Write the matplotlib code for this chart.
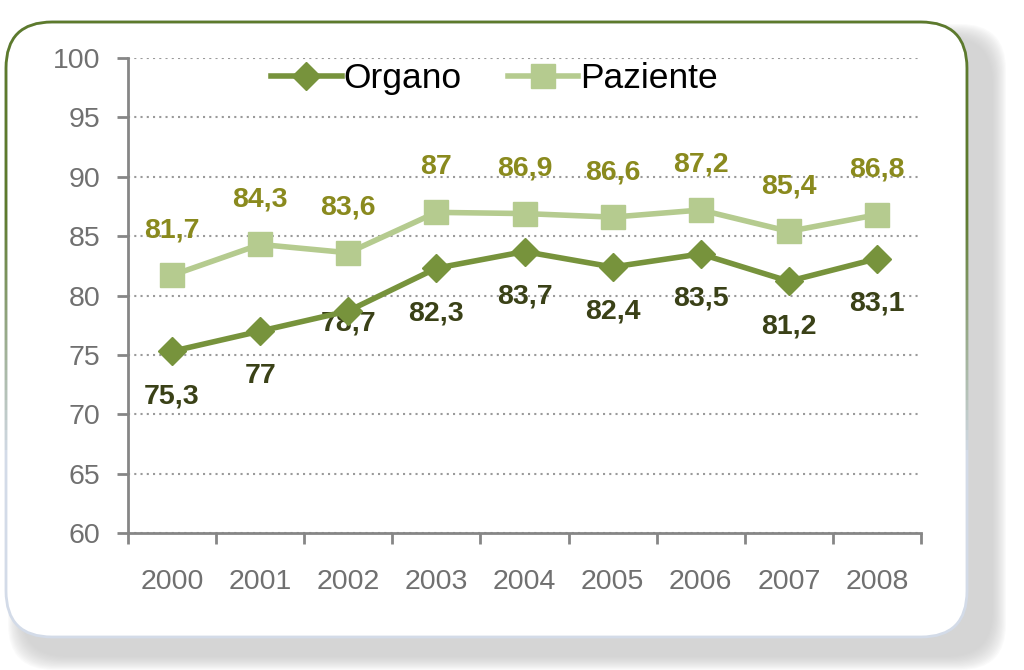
import matplotlib.pyplot as plt
from matplotlib.patches import FancyBboxPatch, Rectangle
import numpy as np

# Dati
anni = ['2000', '2001', '2002', '2003', '2004', '2005', '2006', '2007', '2008']
organo = [75.3, 77, 78.7, 82.3, 83.7, 82.4, 83.5, 81.2, 83.1]
paziente = [81.7, 84.3, 83.6, 87, 86.9, 86.6, 87.2, 85.4, 86.8]

plt.rcParams['font.family'] = ['Liberation Sans', 'DejaVu Sans']

fig = plt.figure(figsize=(10.24, 6.7), dpi=100)
W, H = 1024, 670

def box(x0, y0, x1, y1, **kw):
    # coordinate in pixel (origine in alto a sinistra)
    return FancyBboxPatch((x0 / W, 1 - y1 / H), (x1 - x0) / W, (y1 - y0) / H,
                          boxstyle='round,pad=0,rounding_size=0.045',
                          transform=fig.transFigure, mutation_aspect=W / H, **kw)

# ombra sfumata
for d in range(14, 0, -1):
    fig.patches.append(box(22 - d, 38 - d, 992 + d, 656 + d, facecolor='#c8c8c8',
                           edgecolor='none', alpha=0.08, zorder=0))
# cornice
fig.patches.append(box(6, 22, 967, 637, facecolor='white', edgecolor='#d3dbe8',
                       linewidth=2, zorder=1))
# bordo verde sfumato verso il basso
bande = np.linspace(0, 460, 47)
for k in range(len(bande) - 1):
    y0, y1 = bande[k], bande[k + 1]
    a = 1.0 if y1 <= 220 else max(0.0, 1 - (y1 - 220) / 240)
    p = box(6, 22, 967, 637, facecolor='none', edgecolor='#5d7a2c', linewidth=2,
            alpha=a, zorder=2)
    fig.patches.append(p)
    p.set_clip_path(Rectangle((0, 1 - y1 / H), 1, (y1 - y0) / H, transform=fig.transFigure))

ax = fig.add_axes([128 / W, 1 - 533 / H, (921 - 128) / W, (533 - 58) / H], zorder=3)
ax.patch.set_alpha(0)
x = np.arange(len(anni))

ax.plot(x, organo, color='#77933c', lw=4, marker='D', markersize=14,
        label='Organo', zorder=4)
ax.plot(x, paziente, color='#b5cb8f', lw=4, marker='s', markersize=17,
        label='Paziente', zorder=3)

lab = lambda v: ('%g' % v).replace('.', ',')
sotto = {2: 13}
for i, v in enumerate(organo):
    off = sotto.get(i, 45)
    ax.annotate(lab(v), (x[i], v), xytext=(0, -off), textcoords='offset pixels',
                ha='center', va='center', fontsize=20.5, fontweight='bold', color='#3a4117')
for i, v in enumerate(paziente):
    ax.annotate(lab(v), (x[i], v), xytext=(0, 45), textcoords='offset pixels',
                ha='center', va='center', fontsize=20.5, fontweight='bold', color='#8a8a1e')

ax.set_xlim(-0.5, len(anni) - 0.5)
ax.set_ylim(60, 100)
ax.set_yticks(range(60, 101, 5))
ax.set_xticks(x)
ax.set_xticklabels(anni)
ax.set_xticks(np.arange(-0.5, len(anni)), minor=True)
ax.tick_params(axis='x', which='major', length=0, pad=26, labelsize=20.5, labelcolor='#707070')
ax.tick_params(axis='x', which='minor', length=8, width=2, color='#868686', direction='out')
ax.tick_params(axis='y', length=8, width=2, color='#868686', pad=12, labelsize=20.5,
               labelcolor='#707070')
for s in ['top', 'right']:
    ax.spines[s].set_visible(False)
for s in ['left', 'bottom']:
    ax.spines[s].set_color('#868686')
    ax.spines[s].set_linewidth(2)
ax.yaxis.grid(True, linestyle=(0, (1, 2)), color='#9a9a9a', linewidth=1.5)
ax.set_axisbelow(True)

ax.legend(loc='upper center', bbox_to_anchor=(0.462, 1.058), ncol=2, frameon=False,
          fontsize=25.5, handlelength=2.0, columnspacing=1.3, handletextpad=0.05)

fig.savefig('out.png', dpi=100)
